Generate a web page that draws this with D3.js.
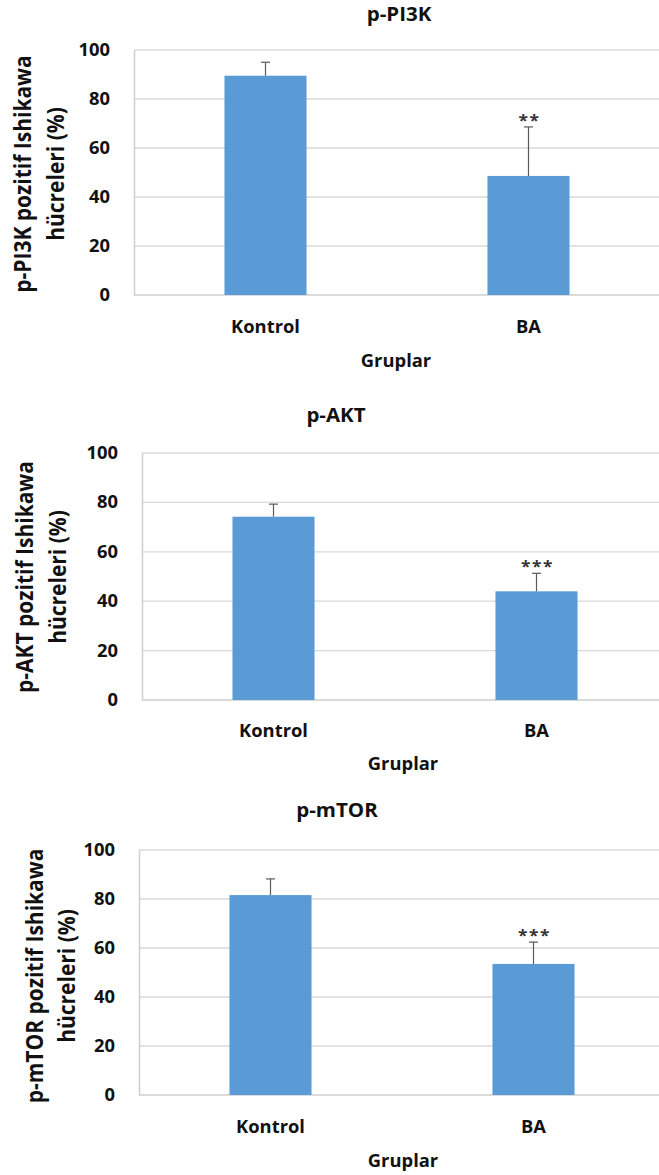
<!DOCTYPE html>
<html>
<head>
<meta charset="UTF-8">
<title>p-PI3K / p-AKT / p-mTOR</title>
<script src="https://cdn.jsdelivr.net/npm/d3@7/dist/d3.min.js"></script>
<style>
  body { margin: 0; background: #fff; }
  svg { display: block; font-family: "Open Sans", Lato, sans-serif; font-weight: bold; }
</style>
</head>
<body>
<svg id="chart" width="659" height="1175"></svg>
<script>
// data
var groups  = ["Kontrol", "BA"];
var markers = ["p-PI3K", "p-AKT", "p-mTOR"];
var means   = [[89.5, 48.6], [74.2, 44.0], [81.6, 53.5]];
var errors  = [[5.5, 20.0], [5.1, 7.3], [6.6, 8.9]];
var stars   = [["", "**"], ["", "***"], ["", "***"]];
var yTicks  = [0, 20, 40, 60, 80, 100];
var xTitle  = "Gruplar";
var yLine2  = "hücreleri (%)";

// layout of each panel (pixels)
var panels = [
  {left: 134, top: 50,  bottom: 295,  titleX: 399, titleY: 21,  catY: 333,  grupX: 396, grupY: 367,  yl1: 31, yl2: 64, ylY: 174},
  {left: 142, top: 453, bottom: 700,  titleX: 336, titleY: 422, catY: 737,  grupX: 403, grupY: 770,  yl1: 33, yl2: 66, ylY: 577},
  {left: 139, top: 850, bottom: 1095, titleX: 337, titleY: 817, catY: 1133, grupX: 403, grupY: 1167, yl1: 43, yl2: 75, ylY: 976}
];
var plotW = 526;
var sx = 1.08;          // the source picture is stretched sideways
var blue = "#5b9bd5";

var svg = d3.select("#chart");

function label(g, txt, x, y, size, anchor, rot) {
  return g.append("text")
    .attr("transform", "translate(" + x + "," + y + ") scale(" + sx + ",1)" + (rot ? " rotate(" + rot + ")" : ""))
    .attr("text-anchor", anchor)
    .style("font-size", size + "px")
    .style("fill", "#111")
    .text(txt);
}

panels.forEach(function(p, i) {
  var g = svg.append("g");

  var y = d3.scaleLinear().domain([0, 100]).range([p.bottom, p.top]);
  var x = d3.scaleBand().domain(groups).range([p.left, p.left + plotW])
    .paddingInner(0.688).paddingOuter(0.344);

  // gridlines
  g.append("g").selectAll("line")
    .data(yTicks.slice(1))
    .enter().append("line")
    .attr("x1", p.left).attr("x2", p.left + plotW)
    .attr("y1", function(d) { return y(d); })
    .attr("y2", function(d) { return y(d); })
    .attr("stroke", "#d9d9d9").attr("stroke-width", 1.3);

  // y axis
  var ya = g.append("g")
    .attr("transform", "translate(" + p.left + ",0)")
    .call(d3.axisLeft(y).tickValues(yTicks).tickSize(0).tickPadding(0));
  ya.select(".domain").attr("stroke", "#cfcfcf").attr("stroke-width", 1.5);
  ya.selectAll("text")
    .attr("x", -24 / sx)
    .attr("transform", "scale(" + sx + ",1)")
    .style("font-size", "17px")
    .style("font-family", "'Open Sans', sans-serif")
    .style("font-weight", "bold")
    .style("fill", "#111");

  // baseline
  g.append("line")
    .attr("x1", p.left).attr("x2", p.left + plotW)
    .attr("y1", y(0)).attr("y2", y(0))
    .attr("stroke", "#cfcfcf").attr("stroke-width", 1.5);

  // bars
  g.append("g").selectAll("rect")
    .data(groups)
    .enter().append("rect")
    .attr("x", function(d) { return x(d); })
    .attr("width", x.bandwidth())
    .attr("y", function(d, j) { return y(means[i][j]); })
    .attr("height", function(d, j) { return y(0) - y(means[i][j]); })
    .attr("fill", blue);

  // error bars (upper half only)
  var eb = g.append("g").attr("stroke", "#595959").attr("stroke-width", 1.2);
  groups.forEach(function(d, j) {
    var cx = x(d) + x.bandwidth() / 2;
    var top = y(means[i][j] + errors[i][j]);
    eb.append("line").attr("x1", cx).attr("x2", cx)
      .attr("y1", y(means[i][j])).attr("y2", top);
    eb.append("line").attr("x1", cx - 4.5).attr("x2", cx + 4.5)
      .attr("y1", top).attr("y2", top);
    if (stars[i][j]) {
      g.append("text")
        .attr("transform", "translate(" + (cx + 1) + "," + (top - 1) + ") scale(" + sx + ",1)")
        .attr("text-anchor", "middle")
        .style("font-size", "16px")
        .style("letter-spacing", "1.5px")
        .style("fill", "#333")
        .text(stars[i][j]);
    }
    // category label
    label(g, d, cx, p.catY, 17, "middle");
  });

  // titles
  label(g, markers[i], p.titleX, p.titleY, 19, "middle");
  label(g, xTitle, p.grupX, p.grupY, 17, "middle");
  label(g, markers[i] + " pozitif Ishikawa", p.yl1, p.ylY, 21, "middle", -90);
  label(g, yLine2, p.yl2, p.ylY, 21, "middle", -90);
});
</script>
</body>
</html>
